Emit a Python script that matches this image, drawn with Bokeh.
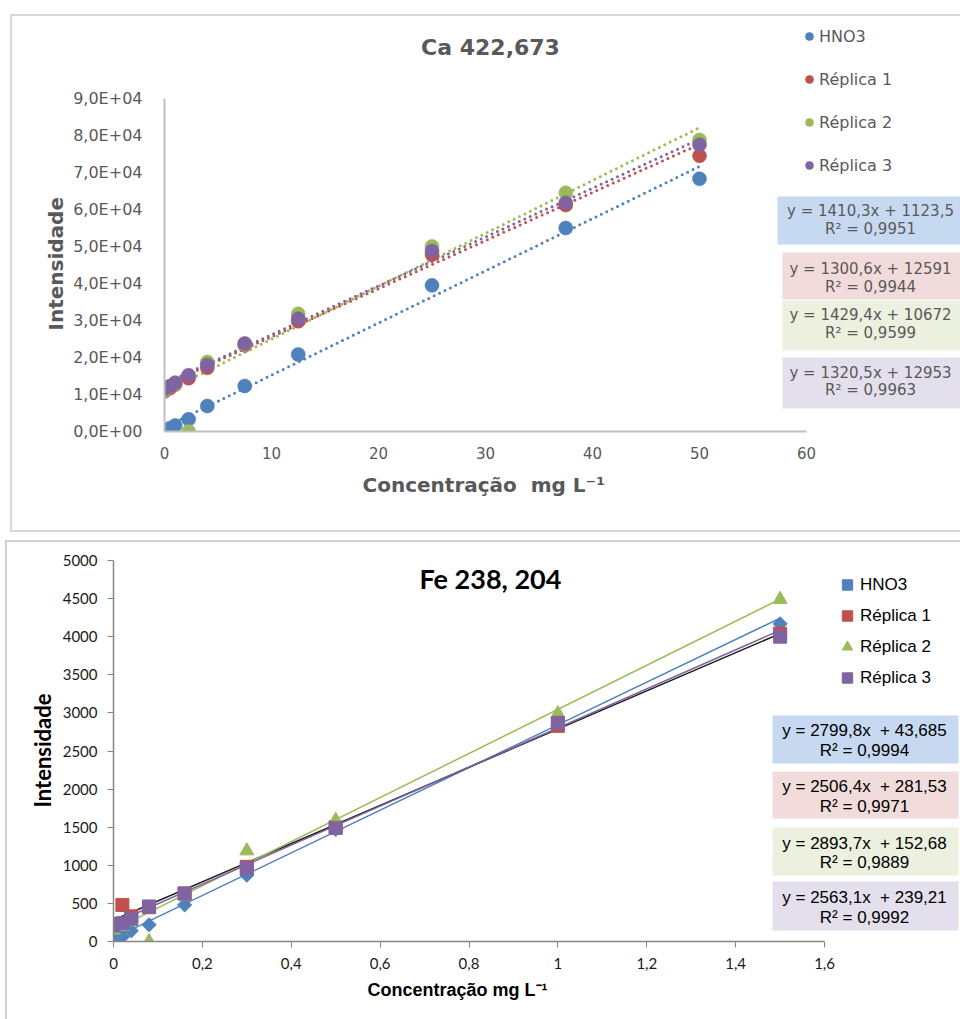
import numpy as np
from bokeh.plotting import figure
from bokeh.models import FixedTicker, Label, BoxAnnotation, Legend, LegendItem, Range1d, Title
from bokeh.embed import file_html
from bokeh.resources import INLINE

# ---------------- Ca 422,673 data ----------------
ca_x = [0, 0.5, 1, 2.25, 4, 7.5, 12.5, 25, 37.5, 50]
ca_hno3 = [300, 900, 1600, 3300, 6900, 12300, 20800, 39500, 55000, 68300]
ca_rep1 = [10800, 11700, 12700, 14400, 17200, 23300, 29800, 47800, 61200, 74500]
ca_rep2 = [11000, 12200, 13000, 0, 18800, 23500, 31800, 50000, 64500, 78800]
ca_rep3 = [11500, 12200, 13200, 15200, 18000, 23800, 30500, 48800, 61800, 77500]
ca_names = ["HNO3", "Réplica 1", "Réplica 2", "Réplica 3"]
ca_slope = [1410.3, 1300.6, 1429.4, 1320.5]
ca_inter = [1123.5, 12591, 10672, 12953]
ca_eq = ["y = 1410,3x + 1123,5", "y = 1300,6x + 12591", "y = 1429,4x + 10672", "y = 1320,5x + 12953"]
ca_r2 = ["R² = 0,9951", "R² = 0,9944", "R² = 0,9599", "R² = 0,9963"]
ca_yticks = [0, 10000, 20000, 30000, 40000, 50000, 60000, 70000, 80000, 90000]
ca_ylabels = ["0,0E+00", "1,0E+04", "2,0E+04", "3,0E+04", "4,0E+04", "5,0E+04",
              "6,0E+04", "7,0E+04", "8,0E+04", "9,0E+04"]
ca_xticks = [0, 10, 20, 30, 40, 50, 60]

# ---------------- Fe 238,204 data ----------------
fe_x = [0, 0.02, 0.04, 0.08, 0.16, 0.3, 0.5, 1.0, 1.5]
fe_hno3 = [40, 60, 140, 220, 480, 870, 1470, 2840, 4170]
fe_rep1 = [230, 480, 330, 450, 630, 980, 1500, 2830, 4040]
fe_rep2 = [150, 200, 260, 0, 600, 1190, 1590, 2990, 4490]
fe_rep3 = [210, 240, 300, 460, 630, 960, 1490, 2870, 4000]
fe_names = ["HNO3", "Réplica 1", "Réplica 2", "Réplica 3"]
fe_slope = [2799.8, 2506.4, 2893.7, 2563.1]
fe_inter = [43.685, 281.53, 152.68, 239.21]
NB = "\u00a0"
fe_eq = ["y = 2799,8x" + NB + NB + "+ 43,685", "y = 2506,4x" + NB + NB + "+ 281,53",
         "y = 2893,7x" + NB + NB + "+ 152,68", "y = 2563,1x" + NB + NB + "+ 239,21"]
fe_r2 = ["R² = 0,9994", "R² = 0,9971", "R² = 0,9889", "R² = 0,9992"]
fe_yticks = [0, 500, 1000, 1500, 2000, 2500, 3000, 3500, 4000, 4500, 5000]
fe_xticks = [0, 0.2, 0.4, 0.6, 0.8, 1.0, 1.2, 1.4, 1.6]
fe_xlabels = ["0", "0,2", "0,4", "0,6", "0,8", "1", "1,2", "1,4", "1,6"]

colors = ["#4f81bd", "#c0504d", "#9bbb59", "#8064a2"]
box_fills = ["#c6d9f1", "#f2dcdb", "#ebf1de", "#e4dfec"]
fe_line_colors = ["#4f81bd", "#1a1a1a", "#9bbb59", "#8064a2"]

GRAY = "#595959"
TF = "DejaVu Sans"
W = 960


def frame_css(col, left, top, height):
    g = "linear-gradient(%s,%s)" % (col, col)
    layers = ["%s %dpx %dpx / 2px %dpx no-repeat" % (g, left, top, height),
              "%s %dpx %dpx / 960px 2px no-repeat" % (g, left, top)]
    if height < 600:
        layers.append("%s %dpx %dpx / 960px 2px no-repeat" % (g, left, top + height - 2))
    return ", ".join(layers) + ", #ffffff"


# ================= TOP CHART =================
# page pixel -> data helpers (layout positions only)
def tx(px):
    return (px - 164) / 10.7

def ty(py):
    return (431 - py) * 90000 / 333

p1 = figure(width=W, height=536, output_backend="svg", toolbar_location=None,
            x_range=Range1d(0, 796 / 10.7), y_range=Range1d(0, 431 * 90000 / 333),
            min_border_left=164, min_border_right=0, min_border_top=0, min_border_bottom=105)
p1.outline_line_color = None
p1.grid.visible = False
p1.border_fill_color = None
p1.background_fill_color = None
css1 = frame_css("#d9d9d9", 10, 14, 518)
p1.styles = {"background": css1}
p1.stylesheets = [":host { background: %s; }" % css1]

ca_series = [ca_hno3, ca_rep1, ca_rep2, ca_rep3]
ca_renderers = []
xs = np.array([min(ca_x), max(ca_x)])
for i, ys in enumerate(ca_series):
    p1.line(xs, ca_slope[i] * xs + ca_inter[i], line_color=colors[i], line_width=3,
            line_dash="0 6", line_cap="round")
for i, ys in enumerate(ca_series):
    r = p1.scatter(ca_x, ys, marker="circle", size=14, fill_color=colors[i],
                   line_color=colors[i], line_alpha=0.6)
    ca_renderers.append(r)

for ax in (p1.xaxis[0], p1.yaxis[0]):
    ax.axis_line_color = "#bfbfbf"
    ax.axis_line_width = 2
    ax.major_tick_line_color = None
    ax.minor_tick_line_color = None
    ax.major_label_text_color = GRAY
    ax.major_label_text_font = TF
    ax.major_label_text_font_size = "15px"

p1.xaxis.ticker = FixedTicker(ticks=ca_xticks)
p1.xaxis.bounds = (0, 60)
p1.xaxis.major_label_standoff = 9

p1.yaxis.ticker = FixedTicker(ticks=ca_yticks)
p1.yaxis.bounds = (0, 90000)
p1.yaxis.major_label_overrides = {t: l for t, l in zip(ca_yticks, ca_ylabels)}
p1.yaxis.major_label_text_font_size = "16px"
p1.yaxis.major_label_standoff = 16

p1.add_layout(Title(text="Concentração" + NB + NB + "mg L⁻¹", align="left", offset=198,
                    standoff=19, text_font=TF, text_font_style="bold",
                    text_font_size="20px", text_color=GRAY), "below")
p1.add_layout(Title(text="Intensidade", align="left", offset=101, standoff=5,
                    text_font=TF, text_font_style="bold", text_font_size="20px",
                    text_color=GRAY), "left")

p1.add_layout(Label(x=tx(490), y=ty(47), text="Ca 422,673", text_align="center",
                    text_baseline="middle", text_font=TF, text_font_style="bold",
                    text_font_size="22px", text_color=GRAY))

leg1 = Legend(items=[LegendItem(label=n, renderers=[r]) for n, r in zip(ca_names, ca_renderers)],
              location=(635, 256), glyph_width=20, glyph_height=20, label_height=20,
              spacing=23, padding=0, margin=0, label_standoff=0,
              border_line_color=None, background_fill_alpha=0,
              label_text_font=TF, label_text_font_size="16px", label_text_color=GRAY)
p1.add_layout(leg1)

ca_boxes = [(777, 196, 244, 210, 228), (782, 252, 299, 268, 286),
            (782, 300, 350, 314, 332), (782, 357, 408, 372, 389)]
for i, (l, t, b, y1, y2) in enumerate(ca_boxes):
    p1.add_layout(BoxAnnotation(left=tx(l), right=tx(962), top=ty(t), bottom=ty(b),
                                fill_color=box_fills[i], fill_alpha=1, line_color=None))
for i, (l, t, b, y1, y2) in enumerate(ca_boxes):
    for txt, yy in ((ca_eq[i], y1), (ca_r2[i], y2)):
        p1.add_layout(Label(x=tx(870), y=ty(yy), text=txt, text_align="center",
                            text_baseline="middle", text_font=TF, text_font_size="15px",
                            text_color=GRAY))

# ================= BOTTOM CHART =================
TOP2 = 536

def bx(px):
    return (px - 113) / 444.4

def by(py):
    return (941 - py) * 5000 / 381

p2 = figure(width=W, height=483, output_backend="svg", toolbar_location=None,
            x_range=Range1d(0, 847 / 444.4), y_range=Range1d(0, (941 - TOP2) * 5000 / 381),
            min_border_left=113, min_border_right=0, min_border_top=0, min_border_bottom=78)
p2.outline_line_color = None
p2.grid.visible = False
p2.border_fill_color = None
p2.background_fill_color = None
css2 = frame_css("#d0d0d0", 5, 4, 900)
p2.styles = {"background": css2}
p2.stylesheets = [":host { background: %s; }" % css2]

fe_series = [fe_hno3, fe_rep1, fe_rep2, fe_rep3]
xs2 = np.array([min(fe_x), max(fe_x)])
for i in range(4):
    p2.line(xs2, fe_slope[i] * xs2 + fe_inter[i], line_color=fe_line_colors[i], line_width=1.5)
markers = ["square", "square", "triangle", "square"]
sizes = [10, 13, 14, 13]
angles = [np.pi / 4, 0, 0, 0]
fe_renderers = []
for i, ys in enumerate(fe_series):
    r = p2.scatter(fe_x, ys, marker=markers[i], size=sizes[i], angle=angles[i],
                   fill_color=colors[i], line_color=colors[i])
    fe_renderers.append(r)

for ax in (p2.xaxis[0], p2.yaxis[0]):
    ax.axis_line_color = "#868686"
    ax.axis_line_width = 1.5
    ax.major_tick_line_color = "#868686"
    ax.major_tick_in = 0
    ax.major_tick_out = 6
    ax.minor_tick_line_color = None
    ax.major_label_text_color = "#1a1a1a"
    ax.major_label_text_font = "Lato"
    ax.major_label_text_font_size = "15px"

p2.xaxis.ticker = FixedTicker(ticks=fe_xticks)
p2.xaxis.bounds = (0, 1.6)
p2.xaxis.major_label_overrides = {t: l for t, l in zip(fe_xticks, fe_xlabels)}
p2.xaxis.major_label_standoff = 10

p2.yaxis.ticker = FixedTicker(ticks=fe_yticks)
p2.yaxis.bounds = (0, 5000)
p2.yaxis.major_label_overrides = {t: str(t) for t in fe_yticks}
p2.yaxis.major_label_standoff = 10

p2.add_layout(Title(text="Concentração mg L⁻¹", align="left", offset=254, standoff=12,
                    text_font="Liberation Sans", text_font_style="bold",
                    text_font_size="18px", text_color="#000000"), "below")
p2.add_layout(Title(text="Intensidade", align="left", offset=134, standoff=8,
                    text_font="Lato", text_font_style="bold", text_font_size="22px",
                    text_color="#000000"), "left")

p2.add_layout(Label(x=bx(490), y=by(578), text="Fe 238, 204", text_align="center",
                    text_baseline="middle", text_font="Lato", text_font_style="bold",
                    text_font_size="27px", text_color="#000000"))

leg2 = Legend(items=[LegendItem(label=n, renderers=[r]) for n, r in zip(fe_names, fe_renderers)],
              location=(721, 248), glyph_width=26, glyph_height=31, label_height=31,
              spacing=0, padding=0, margin=0, label_standoff=0,
              border_line_color=None, background_fill_alpha=0,
              label_text_font="Liberation Sans", label_text_font_size="17px",
              label_text_color="#000000")
p2.add_layout(leg2)

fe_boxes = [(715, 763, 730, 750), (771, 818, 786, 806), (827, 875, 843, 862), (881, 930, 897, 917)]
for i, (t, b, y1, y2) in enumerate(fe_boxes):
    p2.add_layout(BoxAnnotation(left=bx(772), right=bx(958), top=by(t), bottom=by(b),
                                fill_color=box_fills[i], fill_alpha=1, line_color=None))
for i, (t, b, y1, y2) in enumerate(fe_boxes):
    for txt, yy in ((fe_eq[i], y1), (fe_r2[i], y2)):
        p2.add_layout(Label(x=bx(864), y=by(yy), text=txt, text_align="center",
                            text_baseline="middle", text_font="Liberation Sans",
                            text_font_size="17px", text_color="#000000"))

open("out.html", "w").write(file_html([p1, p2], INLINE))
